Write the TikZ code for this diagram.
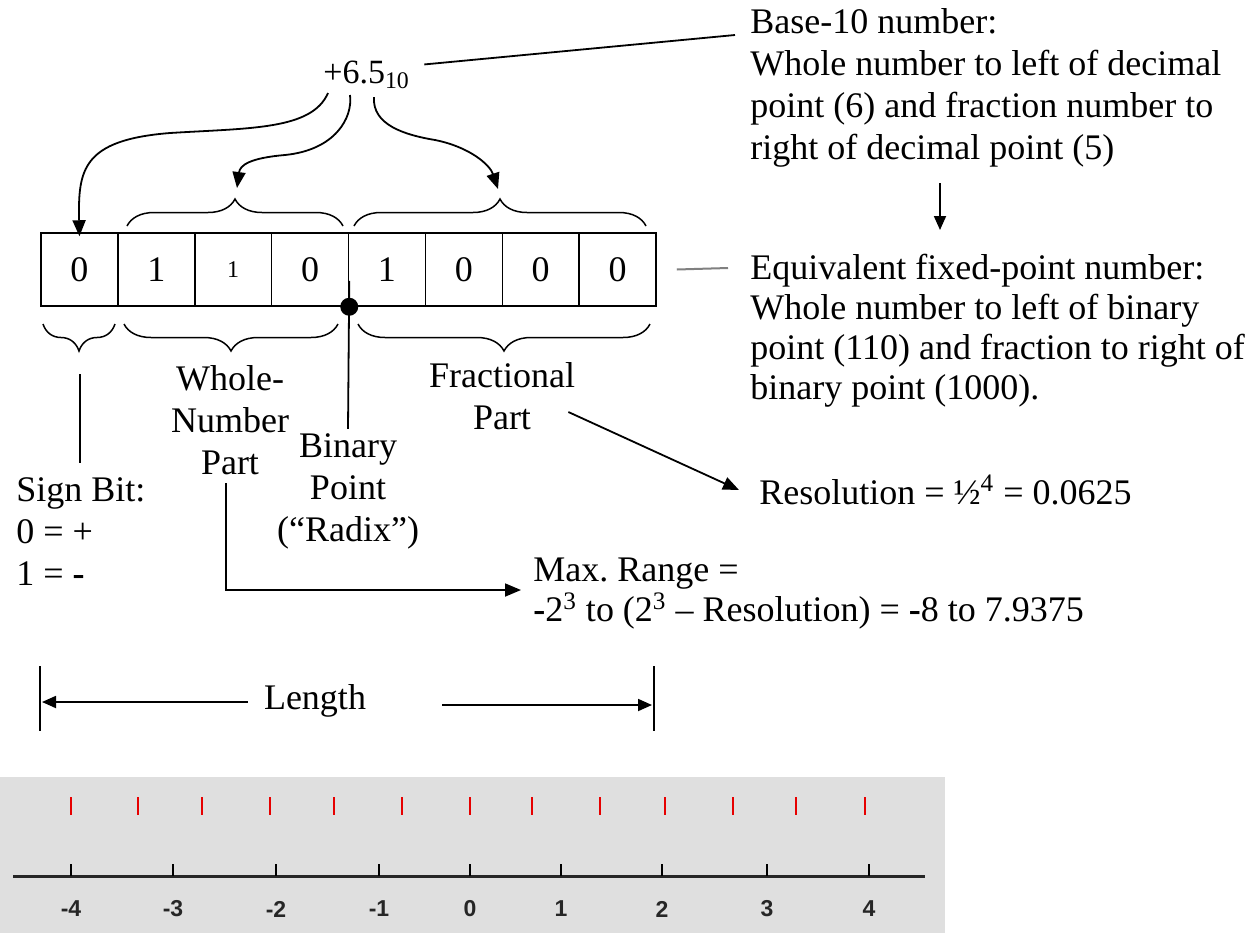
\documentclass[tikz,border=0pt]{standalone}
\usepackage{fontspec}
\setmainfont{Liberation Serif}
\newfontfamily\axisfont{Liberation Sans}
\usetikzlibrary{arrows.meta,decorations.pathreplacing}
\definecolor{panelgray}{RGB}{223,223,223}
\definecolor{tickred}{RGB}{230,0,0}
\frenchspacing
\begin{document}
\begin{tikzpicture}[x=0.5pt,y=-0.5pt,
  txt/.style={font=\fontsize{18}{21}\selectfont, inner sep=0pt},
  cell/.style={draw, line width=0.75pt, minimum width=38.44pt, minimum height=36.5pt,
               inner sep=0pt, font=\fontsize{18}{18}\selectfont},
  wire/.style={line width=0.9pt},
  arr/.style={line width=0.9pt, -{Triangle[length=8pt,width=6.5pt]}},
  sarr/.style={line width=0.9pt, -{Triangle[length=7pt,width=6pt]}},
  brc/.style={line width=0.75pt, decorate, decoration={brace, amplitude=13.5pt}},
  redtick/.style={tickred, line width=0.9pt},
  axtick/.style={line width=0.9pt},
  axlabel/.style={font=\axisfont\bfseries\fontsize{11.5}{11.5}\selectfont, inner sep=0pt, text=black!85},
]
\useasboundingbox (0,0) rectangle (1258,933);

% ---- the eight bit cells ----
\node[cell] (c1) at (79.44,269.5)  {0};
\node[cell] (c2) at (156.31,269.5) {\raisebox{-2.5pt}{1}};
\node[cell] (c3) at (233.19,269.5) {\fontsize{12}{12}\selectfont 1};
\node[cell] (c4) at (310.06,269.5) {0};
\node[cell] (c5) at (386.94,269.5) {1};
\node[cell] (c6) at (463.81,269.5) {0};
\node[cell] (c7) at (540.69,269.5) {0};
\node[cell] (c8) at (617.56,269.5) {0};

% binary point marker
\fill (c4.south east) circle (4.5pt);

% ---- decimal value and its parts ----
\node[txt, font=\fontsize{17}{17}\selectfont, anchor=base west] (num) at (323,83) {+6.5\textsubscript{10}};

\coordinate (a1s) at (328,93);
\coordinate (a2s) at (350,95);
\coordinate (a3s) at (374,97);
\draw[arr] (a1s) .. controls (312,130) and (250,128) .. (170,133)
                 .. controls (82,140) and (78,170) .. ([yshift=-2pt]c1.north);
\draw[arr] (a2s) .. controls (353,118) and (335,150) .. (285,155)
                 .. controls (250,158) and (240,165) .. (237,188);
\draw[arr] (a3s) .. controls (372,125) and (405,135) .. (435,140)
                 .. controls (470,147) and (490,165) .. (498,189);

% braces above the cells
\draw[brc] (127,226) -- (343,226);
\draw[brc] (354,226) -- (646,226);

% braces below the cells
\draw[brc] (115,324) -- (43,324);
\draw[brc] (338,324) -- (124,324);
\draw[brc] (650,324) -- (358,324);

% ---- explanatory texts on the right ----
\node[txt, anchor=north west, align=left] (base) at (750,8)
  {Base-10 number:\\Whole number to left of decimal\\point (6) and fraction number to\\right of decimal point (5)};
\draw[wire] ([shift={(14,-10)}]num.east) -- ([shift={(-15,27)}]base.north west);

\node[txt, font=\fontsize{18}{20}\selectfont, anchor=north west, align=left] (equiv) at (750,254)
  {Equivalent fixed-point number:\\Whole number to left of binary\\point (110) and fraction to right of\\binary point (1000).};
\coordinate (dA) at (940,183);
\coordinate (dB) at (940,230);
\draw[sarr] (dA) -- (dB);
\draw[gray, line width=1pt] ([xshift=10pt]c8.east) -- ([shift={(-22,14)}]equiv.north west);

% ---- part labels below the cells ----
\node[txt, align=center] (whole) at (230,420) {Whole-\\Number\\Part};
\node[txt, align=center] (frac) at (502,396) {Fractional\\Part};
\node[txt, align=center] (binpt) at (348,491) {Binary\\Point\\(“Radix”)};
\node[txt, align=left, anchor=west] (sign) at (16,532) {Sign Bit:\\0 = +\\1 = \textbf{-}};

\draw[wire] (80,374) -- ([yshift=7.5pt]sign.north -| 80,0);
\draw[wire] ([yshift=13pt]c4.south east) -- ([yshift=2pt]binpt.north);

% ---- resolution and range ----
\node[txt, anchor=west] (res) at (759,490) {Resolution = ½\textsuperscript{4} = 0.0625};
\draw[arr] ([shift={(-7,16)}]frac.east) -- ([xshift=-10pt]res.west);

\node[txt, font=\fontsize{18}{20}\selectfont, align=left, anchor=west] (range) at (533,594)
  {Max. Range =\\\textbf{-}2\textsuperscript{3} to (2\textsuperscript{3} – Resolution) = \textbf{-}8 to 7.9375};
\draw[arr] ([shift={(-4,8)}]whole.south) |- ([shift={(-12,-4)}]range.west);

% ---- word length ----
\coordinate (lenL) at (40,666);
\coordinate (lenR) at (654,666);
\draw[wire] (lenL) -- ++(0,65);
\draw[wire] (lenR) -- ++(0,65);
\node[txt] (len) at (315,701) {Length};
\draw[sarr] ([xshift=-8pt]len.west |- 0,702) -- (42,702);
\draw[sarr] ([xshift=38pt]len.east |- 0,705) -- (652,705);

% ---- number line panel ----
\fill[panelgray] (0,777) rectangle (945,933);
\foreach \x in {71,138,202,270,334,402,470,532,600,665,733,796,865}
  \draw[redtick] (\x,797) -- (\x,815);
\draw[line width=1.5pt, black!85] (13,876) -- (925,876);
\foreach \x/\l in {71/-4,173/-3,276/-2,379/-1,470/0,561/1,662/2,767/3,869/4}{
  \draw[axtick] (\x,864) -- (\x,876);
  \node[axlabel] at (\x,909) {\l};
}
\end{tikzpicture}
\end{document}
